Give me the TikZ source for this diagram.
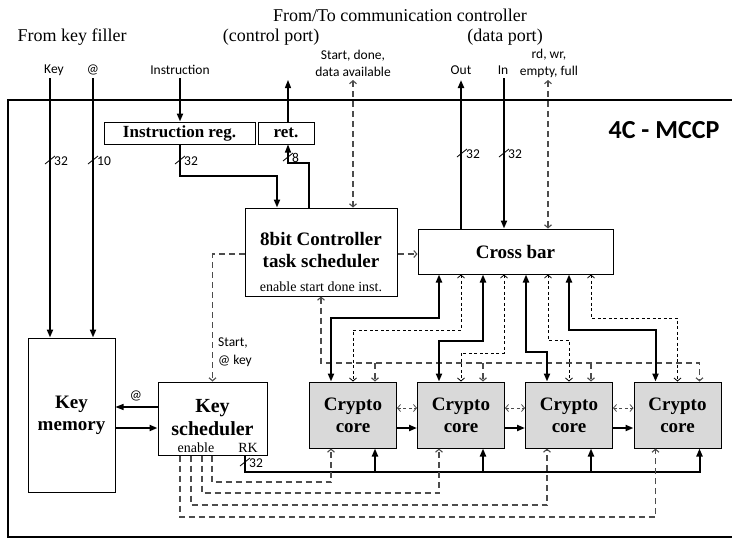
\documentclass[tikz,border=0pt]{standalone}
\usepackage{fontspec}
\setmainfont{Liberation Serif}
\setsansfont{Carlito}
\usetikzlibrary{arrows.meta}
\newcommand\busmark[4]{%
  \draw[line width=0.8pt] (#1-5,#2+4) -- (#1+5,#2-4);
  \node[lab,anchor=west] (#4) at (#1+4,#2+1) {#3};}
\begin{document}
\begin{tikzpicture}[x=1pt,y=-1pt,
  box/.style={draw, line width=1pt, inner sep=0pt, align=center,
    font=\bfseries\fontsize{19}{22}\selectfont},
  core/.style={box, fill=black!15, minimum width=87pt, minimum height=66pt},
  lab/.style={font=\sffamily\fontsize{13.5}{17}\selectfont, inner sep=0pt},
  ttl/.style={font=\fontsize{18}{20}\selectfont, inner sep=0pt},
  bus/.style={line width=2pt},
  thinl/.style={line width=1.2pt},
  ctl/.style={line width=1.1pt, draw=black!70, dash pattern=on 6pt off 4pt},
  sig/.style={line width=0.8pt, dash pattern=on 3pt off 2.5pt},
  ba/.style={-{Triangle[length=8pt,width=6pt]}},
  bab/.style={{Triangle[length=8pt,width=6pt]}-{Triangle[length=8pt,width=6pt]}},
  oa/.style={-{Straight Barb[length=3pt,width=7pt]}},
  oab/.style={{Straight Barb[length=3pt,width=7pt]}-{Straight Barb[length=3pt,width=7pt]}}]
\useasboundingbox (0,0) rectangle (732,539);

% outer frame
\draw[line width=2.5pt] (732,100) -- (8,100) -- (8,537) -- (732,537);

% titles and port labels
\node[ttl] (tcc) at (400,15) {From/To communication controller};
\node[ttl] (tkf) at (72,37) {From key filler};
\node[ttl] (tcp) at (271,37) {(control port)};
\node[ttl] (tdp) at (505,37) {(data port)};
\node[lab] (lkey) at (54,70) {Key};
\node[lab] (lat) at (93,70) {@};
\node[lab] (lins) at (180,70) {Instruction};
\node[lab,align=center] (lsd) at (353,63) {Start, done,\\data available};
\node[lab] (lout) at (461,70) {Out};
\node[lab] (lin) at (503,70) {In};
\node[lab,align=center] (lrd) at (549,63) {rd, wr,\\empty, full};
\node[font=\sffamily\bfseries\fontsize{26}{28}\selectfont, inner sep=0pt] (title) at (664,130) {4C - MCCP};

% boxes
\node[box, minimum width=87pt, minimum height=154pt] (keymem) at (71.5,415) {Key\\memory};
\node[box, minimum width=151pt, minimum height=22pt, font=\bfseries\fontsize{17}{19}\selectfont] (instr) at (179.5,133) {Instruction reg.};
\node[box, minimum width=56pt, minimum height=22pt, font=\bfseries\fontsize{17}{19}\selectfont] (ret) at (286,133) {ret.};
\node[box, minimum width=152pt, minimum height=88pt] (ctrl) at (321,252) {};
\node[font=\bfseries\fontsize{19}{22}\selectfont, align=center, inner sep=0pt] (ctrlt) at (321,250) {8bit Controller\\task scheduler};
\node[font=\fontsize{14}{16}\selectfont, inner sep=0pt] (ctrls) at (321,287) {enable start done inst.};
\node[box, minimum width=195pt, minimum height=45pt] (xbar) at (515.5,251.5) {Cross bar};
\node[box, minimum width=109pt, minimum height=73pt] (ksch) at (212.5,418.5) {};
\node[font=\bfseries\fontsize{20}{23}\selectfont, align=center, inner sep=0pt] (kscht) at (212.5,418) {Key\\scheduler};
\node[font=\fontsize{14}{16}\selectfont, inner sep=0pt] (kschen) at (196,448) {enable};
\node[font=\fontsize{14}{16}\selectfont, inner sep=0pt] (kschrk) at (248,448) {RK};
\node[core] (c1) at (353,415) {Crypto\\core};
\node[core] (c2) at (461,415) {Crypto\\core};
\node[core] (c3) at (569,415) {Crypto\\core};
\node[core] (c4) at (677.5,415) {Crypto\\core};
\foreach \i in {1,2,3,4}{
  \coordinate (c\i tl) at ([xshift=-22pt]c\i.north);
  \coordinate (c\i tm) at (c\i.north);
  \coordinate (c\i tr) at ([xshift=22pt]c\i.north);
  \coordinate (c\i bl) at ([xshift=-22pt]c\i.south);
  \coordinate (c\i br) at ([xshift=22pt]c\i.south);
}

% external port ends
\coordinate (kin) at (50,78);
\coordinate (atin) at (93,78);
\coordinate (insin) at (180,78);
\coordinate (retout) at (288,80);
\coordinate (sdtop) at (353,80);
\coordinate (outtop) at (461,80);
\coordinate (intop) at (504,78);
\coordinate (rdtop) at (548,80);

% top connections
\draw[bus,ba] (kin) -- (kin |- keymem.north);
\draw[bus,ba] (atin) -- (atin |- keymem.north);
\draw[bus,ba] (insin) -- (insin |- instr.north);
\draw[bus,ba] (instr.south) |- (277,176) -- (277,0 |- ctrl.north);
\draw[thinl,ba] (309,0 |- ctrl.north) |- (288,163) -- (288,0 |- ret.south);
\draw[thinl,ba] (288,0 |- ret.north) -- (retout);
\draw[ctl,oab] (sdtop) -- (353,0 |- ctrl.north);
\draw[bus,ba] (461,0 |- xbar.north) -- (outtop);
\draw[bus,ba] (intop) -- (504,0 |- xbar.north);
\draw[ctl,oab] (rdtop) -- (548,0 |- xbar.north);

\busmark{50}{160}{32}{bm1}
\busmark{93}{160}{10}{bm2}
\busmark{180}{160}{32}{bm3}
\busmark{288}{157}{8}{bm4}
\busmark{462}{153}{32}{bm5}
\busmark{504}{153}{32}{bm6}

% controller links
\draw[ctl,oa] (ctrl.east |- 0,254) -- (xbar.west |- 0,254);
\draw[ctl,oa] (ctrl.west |- 0,254) -| (ksch.north);
\node[lab, align=left, anchor=west, font=\sffamily\fontsize{13.5}{18}\selectfont] (lsk) at (218,352) {Start,\\@ key};

% key memory <-> key scheduler
\draw[thinl,ba] (ksch.west |- 0,407) -- (keymem.east |- 0,407);
\node[lab] (lat2) at (136,396) {@};
\draw[bus,ba] (keymem.east |- 0,428) -- (ksch.west |- 0,428);

% RK bus
\draw[bus,ba] (245,0 |- ksch.south) |- (c4br |- 0,472) -- (c4br);
\foreach \i in {1,2,3}{\draw[bus,ba] (c\i br |- 0,472) -- (c\i br);}
\busmark{245}{462}{32}{bm7}

% enable lines
\draw[ctl,oa] (212,0 |- ksch.south) |- (c1bl |- 0,482) -- (c1bl);
\draw[ctl,oa] (202,0 |- ksch.south) |- (c2bl |- 0,493) -- (c2bl);
\draw[ctl,oa] (191,0 |- ksch.south) |- (c3bl |- 0,505) -- (c3bl);
\draw[ctl,oa] (180,0 |- ksch.south) |- (c4bl |- 0,517) -- (c4bl);

% controller bottom bus to cores
\draw[ctl,oab] (ctrl.south) |- (c4tr |- 0,363) -- (c4tr);
\foreach \i in {1,2,3}{\draw[ctl,oa] (c\i tr |- 0,363) -- (c\i tr);}

% crossbar <-> cores
\draw[bus,bab] (439,0 |- xbar.south) |- (c1tl |- 0,318) -- (c1tl);
\draw[sig,oab] (461,0 |- xbar.south) |- (c1tm |- 0,330) -- (c1tm);
\draw[bus,bab] (483,0 |- xbar.south) |- (c2tl |- 0,341) -- (c2tl);
\draw[sig,oab] (504,0 |- xbar.south) |- (c2tm |- 0,353) -- (c2tm);
\draw[bus,bab] (526,0 |- xbar.south) |- (c3tl |- 0,352) -- (c3tl);
\draw[sig,oab] (548,0 |- xbar.south) |- (c3tm |- 0,340) -- (c3tm);
\draw[bus,bab] (569,0 |- xbar.south) |- (c4tl |- 0,330) -- (c4tl);
\draw[sig,oab] (591,0 |- xbar.south) |- (c4tm |- 0,318) -- (c4tm);

% core to core
\foreach \a/\b in {c1/c2,c2/c3,c3/c4}{
  \draw[sig,oab,draw=black!70] (\a.east |- 0,408) -- (\b.west |- 0,408);
  \draw[bus,ba] (\a.east |- 0,428) -- (\b.west |- 0,428);
}
\end{tikzpicture}
\end{document}
